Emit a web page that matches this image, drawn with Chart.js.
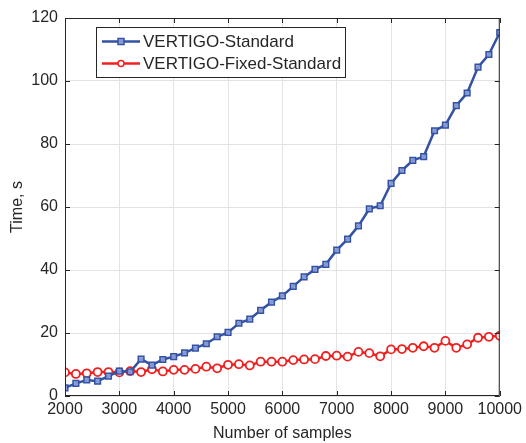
<!DOCTYPE html>
<html>
<head>
<meta charset="utf-8">
<script src="https://cdn.jsdelivr.net/npm/chart.js@4.4.1/dist/chart.umd.min.js"></script>
<style>
html, body { margin: 0; padding: 0; background: #fff; }
#wrap { width: 526px; height: 443px; }
</style>
</head>
<body>
<div id="wrap"><canvas id="timeChart" width="526" height="443"></canvas></div>
<script>
// number of samples (x)
var samples = [2000, 2200, 2400, 2600, 2800, 3000, 3200, 3400, 3600, 3800,
               4000, 4200, 4400, 4600, 4800, 5000, 5200, 5400, 5600, 5800,
               6000, 6200, 6400, 6600, 6800, 7000, 7200, 7400, 7600, 7800,
               8000, 8200, 8400, 8600, 8800, 9000, 9200, 9400, 9600, 9800, 10000];

// time in seconds
var standardTime = [2.6, 4.0, 5.1, 4.7, 6.3, 7.9, 7.7, 11.7, 9.8, 11.6,
                    12.5, 13.7, 15.2, 16.6, 18.8, 20.2, 23.1, 24.4, 27.2, 29.8,
                    31.8, 34.8, 37.8, 40.2, 41.8, 46.3, 49.8, 54.0, 59.4, 60.4,
                    67.5, 71.6, 74.8, 76.0, 84.2, 86.0, 92.2, 96.2, 104.4, 108.4, 115.4];
var fixedTime = [7.5, 7.0, 7.2, 7.6, 7.6, 7.5, 7.9, 7.6, 8.5, 7.8,
                 8.3, 8.3, 8.6, 9.3, 8.8, 9.9, 10.1, 9.7, 10.9, 10.9,
                 10.9, 11.4, 11.6, 11.7, 12.7, 12.8, 12.5, 14.0, 13.6, 12.6,
                 14.8, 14.9, 15.3, 15.8, 15.3, 17.5, 15.3, 16.4, 18.5, 18.8, 19.1];

var xTicks = [2000, 3000, 4000, 5000, 6000, 7000, 8000, 9000, 10000];
var yTicks = [0, 20, 40, 60, 80, 100, 120];

var seriesNames = ['VERTIGO-Standard', 'VERTIGO-Fixed-Standard'];
var blue = 'rgb(52, 82, 165)';
var red = 'rgb(240, 32, 32)';
var textColor = '#262626';
var fontFamily = '"Liberation Sans", Arial, Helvetica, sans-serif';

function toPoints(xs, ys) {
    var pts = [];
    for (var i = 0; i < xs.length; i++) {
        pts.push({x: xs[i], y: ys[i]});
    }
    return pts;
}

// box, inward ticks and legend inside the plot, matlab style
var framePlugin = {
    id: 'frame',
    afterDraw: function(chart) {
        var ctx = chart.ctx;
        var a = chart.chartArea;
        var xs = chart.scales.x, ys = chart.scales.y;
        var tl = 5;
        ctx.save();
        ctx.strokeStyle = textColor;
        ctx.lineWidth = 1;
        ctx.beginPath();
        ctx.rect(a.left + 0.5, a.top + 0.5, a.right - a.left - 1, a.bottom - a.top - 1);
        xTicks.forEach(function(v) {
            var px = Math.round(xs.getPixelForValue(v)) + 0.5;
            ctx.moveTo(px, a.bottom); ctx.lineTo(px, a.bottom - tl);
            ctx.moveTo(px, a.top); ctx.lineTo(px, a.top + tl);
        });
        yTicks.forEach(function(v) {
            var py = Math.round(ys.getPixelForValue(v)) + 0.5;
            ctx.moveTo(a.left, py); ctx.lineTo(a.left + tl, py);
            ctx.moveTo(a.right, py); ctx.lineTo(a.right - tl, py);
        });
        ctx.stroke();

        // legend
        var bx = 96.5, by = 27.5, bw = 249, bh = 50;
        ctx.fillStyle = '#fff';
        ctx.fillRect(bx, by, bw, bh);
        ctx.strokeStyle = textColor;
        ctx.strokeRect(bx, by, bw, bh);
        var rows = [41.5, 63.5];
        chart.data.datasets.forEach(function(ds, i) {
            var y = rows[i];
            ctx.strokeStyle = ds.borderColor;
            ctx.lineWidth = 2.5;
            ctx.beginPath();
            ctx.moveTo(102, y); ctx.lineTo(140, y);
            ctx.stroke();
            ctx.lineWidth = 1.5;
            ctx.fillStyle = ds.pointBackgroundColor;
            if (ds.pointStyle === 'rect') {
                ctx.fillRect(118, y - 3, 6, 6);
                ctx.strokeRect(118, y - 3, 6, 6);
            } else {
                ctx.beginPath();
                ctx.arc(121, y, 3, 0, Math.PI * 2);
                ctx.fill();
                ctx.stroke();
            }
            ctx.fillStyle = textColor;
            ctx.font = '17px ' + fontFamily;
            ctx.textBaseline = 'middle';
            ctx.textAlign = 'left';
            ctx.fillText(ds.label, 143, y + 1);
        });
        ctx.restore();
    }
};

var ctx = document.getElementById('timeChart').getContext('2d');
var timeChart = new Chart(ctx, {
    type: 'line',
    data: {
        datasets: [{
            label: seriesNames[0],
            data: toPoints(samples, standardTime),
            borderColor: blue,
            borderWidth: 2.5,
            pointStyle: 'rect',
            pointRadius: 4,
            pointBorderWidth: 1.5,
            pointBorderColor: blue,
            pointBackgroundColor: 'rgba(140, 160, 215, 0.9)',
            tension: 0
        }, {
            label: seriesNames[1],
            data: toPoints(samples, fixedTime),
            borderColor: red,
            borderWidth: 2.5,
            pointStyle: 'circle',
            pointRadius: 4,
            pointBorderWidth: 1.8,
            pointBorderColor: red,
            pointBackgroundColor: '#fff',
            tension: 0
        }]
    },
    options: {
        responsive: false,
        animation: false,
        layout: { padding: { left: 0, right: 26, top: 18, bottom: 0 } },
        plugins: {
            legend: { display: false },
            tooltip: { enabled: false }
        },
        scales: {
            x: {
                type: 'linear',
                min: 2000,
                max: 10000,
                afterBuildTicks: function(scale) {
                    scale.ticks = xTicks.map(function(v) { return {value: v}; });
                },
                afterFit: function(scale) { scale.height = 47; },
                grid: { color: '#e3e3e3', drawTicks: false },
                border: { display: false },
                ticks: {
                    color: textColor,
                    font: { family: fontFamily, size: 16 },
                    padding: 4,
                    maxRotation: 0,
                    autoSkip: false,
                    callback: function(v) { return String(v); }
                },
                title: {
                    display: true,
                    text: 'Number of samples',
                    color: textColor,
                    font: { family: fontFamily, size: 16 },
                    padding: { top: 0, bottom: 0 }
                }
            },
            y: {
                min: 0,
                max: 120,
                afterBuildTicks: function(scale) {
                    scale.ticks = yTicks.map(function(v) { return {value: v}; });
                },
                afterFit: function(scale) { scale.width = 65; },
                grid: { color: '#e3e3e3', drawTicks: false },
                border: { display: false },
                ticks: {
                    color: textColor,
                    font: { family: fontFamily, size: 16 },
                    padding: 7
                },
                title: {
                    display: true,
                    text: 'Time, s',
                    color: textColor,
                    font: { family: fontFamily, size: 16 },
                    padding: { top: 8, bottom: 0 }
                }
            }
        }
    },
    plugins: [framePlugin]
});
</script>
</body>
</html>
